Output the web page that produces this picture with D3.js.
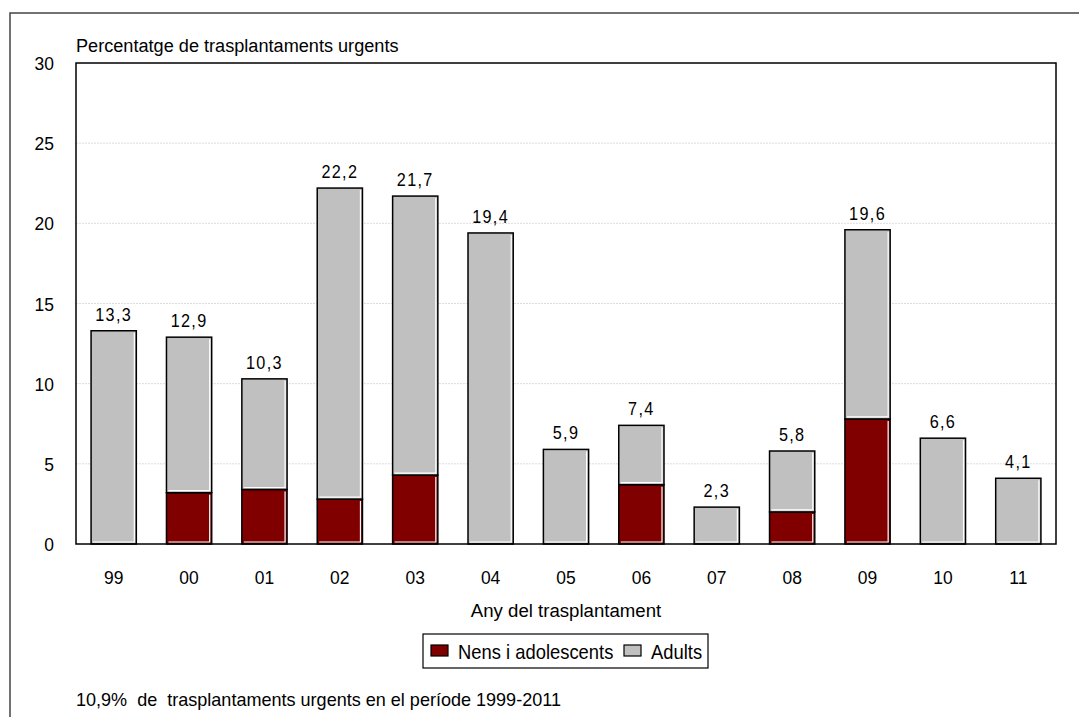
<!DOCTYPE html>
<html><head><meta charset="utf-8">
<script src="https://cdn.jsdelivr.net/npm/d3@7"></script>
<style>body{margin:0;background:#fff}svg{display:block;font-family:"Liberation Sans",Arial,sans-serif}</style>
</head><body><svg id="c" width="1079" height="717"></svg>
<script>
const categories = ["99","00","01","02","03","04","05","06","07","08","09","10","11"];
const totals = [13.3,12.9,10.3,22.2,21.7,19.4,5.9,7.4,2.3,5.8,19.6,6.6,4.1];
const nens = [0,3.2,3.4,2.8,4.3,0,0,3.7,0,2.0,7.8,0,0];
const adults = totals.map((t,i)=>+(t-nens[i]).toFixed(1));
const totalLabels = ["13,3","12,9","10,3","22,2","21,7","19,4","5,9","7,4","2,3","5,8","19,6","6,6","4,1"];
const yTicks = [0,5,10,15,20,25,30];
const seriesNames = ["Nens i adolescents","Adults"];
const colors = ["#800000","#c0c0c0"];

const svg = d3.select("#c");
const L=76,R=1056,T=63,B=544;
const x = d3.scaleBand().domain(categories).range([L,R]).paddingInner(0.4).paddingOuter(0.2);
const y = d3.scaleLinear().domain([0,30]).range([B,T]);

function txt(sel, px, py, s, size, sx, anchor){
  return sel.append("text").attr("transform",`translate(${px},${py}) scale(${sx},1)`)
    .attr("font-size",size).attr("text-anchor",anchor||"start").attr("fill","#000")
    .style("white-space","pre").text(s);
}

// outer frame
svg.append("rect").attr("x",10).attr("y",13).attr("width",1100).attr("height",800)
  .attr("fill","none").attr("stroke","#444").attr("stroke-width",1.5);

// gridlines
svg.append("g").selectAll("line").data(yTicks.filter(d=>d>0&&d<30)).join("line")
  .attr("x1",L).attr("x2",R).attr("y1",d=>y(d)).attr("y2",d=>y(d))
  .attr("stroke","#dcdcdc").attr("stroke-width",1).attr("stroke-dasharray","2,1");

// y tick labels
const gy = svg.append("g");
yTicks.forEach(d=>txt(gy,54,y(d)+7,String(d),19,0.92,"end"));

// stacked bars
const stack = categories.map((c,i)=>[{c,y0:0,y1:nens[i],s:0},{c,y0:nens[i],y1:nens[i]+adults[i],s:1}]).flat().filter(d=>d.y1>d.y0);
const bw = x.bandwidth();
const g = svg.append("g");
stack.forEach(d=>{
  const x0=x(d.c), yt=y(d.y1), yb=y(d.y0);
  g.append("rect").attr("x",x0).attr("y",yt).attr("width",bw).attr("height",yb-yt)
    .attr("fill",colors[d.s]).attr("stroke","#000").attr("stroke-width",1.5);
  g.append("path").attr("d",`M${x0+bw-2},${yt+2}V${yb-2}H${x0+2}`)
    .attr("fill","none").attr("stroke","#fff").attr("stroke-width",1.2);
});

// value labels
const gl = svg.append("g");
categories.forEach((c,i)=>{
  txt(gl, x(c)+bw/2, y(totals[i])-10, totalLabels[i], 18, 0.9, "middle").attr("letter-spacing",1.5);
});

// plot frame
svg.append("rect").attr("x",L).attr("y",T).attr("width",R-L).attr("height",B-T)
  .attr("fill","none").attr("stroke","#000").attr("stroke-width",1.5);

// x tick labels
const gx = svg.append("g");
categories.forEach(c=>txt(gx, x(c)+bw/2, 584, c, 19, 0.92, "middle"));

// axis titles
txt(svg, L, 52, "Percentatge de trasplantaments urgents", 19, 0.955);
txt(svg, (L+R)/2, 617, "Any del trasplantament", 19, 0.98, "middle");

// legend
const lg = svg.append("g");
lg.append("rect").attr("x",423).attr("y",634).attr("width",285).attr("height",34).attr("fill","#fff").attr("stroke","#000").attr("stroke-width",1.2);
const legX=[431,624];
seriesNames.forEach((n,i)=>{
  lg.append("rect").attr("x",legX[i]).attr("y",645).attr("width",17).attr("height",11).attr("fill",colors[i]).attr("stroke","#000").attr("stroke-width",1.2);
  txt(lg, legX[i]+27, 659, n, 20, 0.92);
});

// footnote
txt(svg, L, 706, "10,9%  de  trasplantaments urgents en el període 1999-2011", 19, 0.95);
</script></body></html>
